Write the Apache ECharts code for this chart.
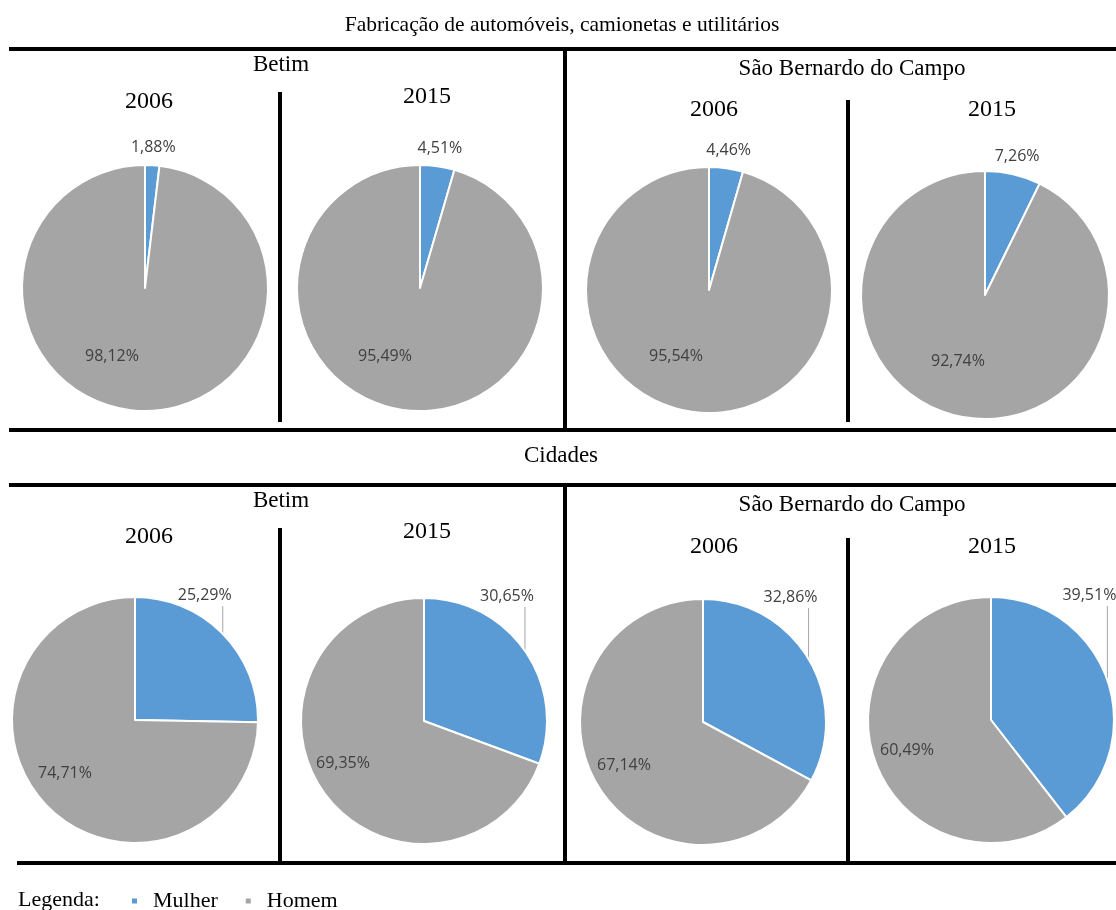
<!DOCTYPE html>
<html>
<head>
<meta charset="utf-8">
<title>Fabricação de automóveis, camionetas e utilitários</title>
<script src="https://cdn.jsdelivr.net/npm/echarts@6/dist/echarts.min.js"></script>
<style>
  html, body { margin: 0; padding: 0; background: #ffffff; }
  #chart { width: 1116px; height: 910px; }
</style>
</head>
<body>
<div id="chart"></div>
<script>
// ---- data -----------------------------------------------------------
const sliceNames = ['Mulher', 'Homem'];
const sectionTitles = ['Fabricação de automóveis, camionetas e utilitários', 'Cidades'];
const cities = ['Betim', 'São Bernardo do Campo'];
const years = ['2006', '2015'];
const legendCaption = 'Legenda:';

// order in each array: Betim 2006, Betim 2015, São Bernardo 2006, São Bernardo 2015
const mulherFabricacao = [1.88, 4.51, 4.46, 7.26];
const homemFabricacao  = [98.12, 95.49, 95.54, 92.74];
const mulherCidades    = [25.29, 30.65, 32.86, 39.51];
const homemCidades     = [74.71, 69.35, 67.14, 60.49];

// ---- styling / layout ------------------------------------------------
const sliceColors = ['#5B9BD5', '#A5A5A5'];
const serif = 'Liberation Serif';
const sans = 'Open Sans';

// pie centres and radii in px; hx/hy place the "Homem" label relative to the centre
const pieGeom = [
  { cx: 145, cy: 288, r: 123, hx: -33, hy: 68 },
  { cx: 420, cy: 288, r: 123, hx: -35, hy: 68 },
  { cx: 709, cy: 290, r: 123, hx: -33, hy: 66 },
  { cx: 985, cy: 295, r: 124, hx: -27, hy: 66 },
  { cx: 135, cy: 720, r: 123, hx: -70, hy: 53 },
  { cx: 424, cy: 721, r: 123, hx: -81, hy: 42 },
  { cx: 703, cy: 722, r: 123, hx: -79, hy: 43 },
  { cx: 991, cy: 720, r: 123, hx: -84, hy: 30 }
];

const pct = v => v.toFixed(2).replace('.', ',') + '%';

function buildPie(idx, mulher, homem, withLeader) {
  const g = pieGeom[idx];
  return {
    type: 'pie',
    center: [g.cx, g.cy],
    radius: g.r,
    startAngle: 90,
    clockwise: true,
    avoidLabelOverlap: false,
    silent: true,
    animation: false,
    emphasis: { disabled: true },
    itemStyle: { borderColor: '#ffffff', borderWidth: 2 },
    label: {
      show: true,
      formatter: p => pct(p.value),
      color: '#404040',
      fontFamily: sans,
      fontSize: 16
    },
    labelLayout: function (p) {
      if (p.dataIndex === 1) {
        return { x: g.cx + g.hx, y: g.cy + g.hy, align: 'center', verticalAlign: 'middle' };
      }
      // mid-angle of the "Mulher" slice, measured clockwise from 12 o'clock
      const a = mulher / 100 * Math.PI;
      const sx = Math.sin(a), sy = -Math.cos(a);
      if (withLeader) {
        const ax = g.cx + g.r * sx, ay = g.cy + g.r * sy;
        const ly = g.cy - g.r - 2;
        return {
          x: ax - 18, y: ly, align: 'center', verticalAlign: 'middle',
          labelLinePoints: [[ax, ly + 11], [ax, ay]]
        };
      }
      return {
        x: g.cx + (g.r + 18) * sx, y: g.cy + (g.r + 18) * sy,
        align: 'center', verticalAlign: 'middle'
      };
    },
    data: [
      {
        name: sliceNames[0], value: mulher,
        itemStyle: { color: sliceColors[0] },
        label: { position: 'outside' },
        labelLine: {
          show: withLeader, length: 10, length2: 0,
          lineStyle: { color: '#A6A6A6', width: 1 }
        }
      },
      {
        name: sliceNames[1], value: homem,
        itemStyle: { color: sliceColors[1] },
        label: { position: 'inside' },
        labelLine: { show: false }
      }
    ]
  };
}

const series = [];
for (let i = 0; i < 4; i++) series.push(buildPie(i, mulherFabricacao[i], homemFabricacao[i], false));
for (let i = 0; i < 4; i++) series.push(buildPie(i + 4, mulherCidades[i], homemCidades[i], true));

// ---- frame: rules and headings --------------------------------------
function hLine(y, x1, x2) {
  return { type: 'line', silent: true, shape: { x1: x1, y1: y, x2: x2, y2: y },
           style: { stroke: '#000000', lineWidth: 4 } };
}
function vLine(x, y1, y2) {
  return { type: 'line', silent: true, shape: { x1: x, y1: y1, x2: x, y2: y2 },
           style: { stroke: '#000000', lineWidth: 4 } };
}
function heading(text, x, y, size) {
  return { type: 'text', silent: true, x: x, y: y,
           style: { text: text, fontFamily: serif, fontSize: size, fill: '#000000',
                    align: 'center', verticalAlign: 'middle' } };
}

const graphics = [
  // horizontal rules
  hLine(49, 9, 1116),
  hLine(430, 9, 1116),
  hLine(485, 9, 1116),
  hLine(863, 17, 1116),
  // vertical dividers
  vLine(565, 49, 430),
  vLine(280, 92, 422),
  vLine(848, 100, 422),
  vLine(565, 485, 863),
  vLine(280, 528, 861),
  vLine(848, 538, 861),
  // section headings
  heading(sectionTitles[0], 562, 25, 21.5),
  heading(sectionTitles[1], 561, 456, 23),
  // upper block
  heading(cities[0], 281, 65, 23),
  heading(cities[1], 852, 69, 23),
  heading(years[0], 149, 102, 24),
  heading(years[1], 427, 97, 24),
  heading(years[0], 714, 110, 24),
  heading(years[1], 992, 110, 24),
  // lower block
  heading(cities[0], 281, 501, 23),
  heading(cities[1], 852, 505, 23),
  heading(years[0], 149, 537, 24),
  heading(years[1], 427, 532, 24),
  heading(years[0], 714, 547, 24),
  heading(years[1], 992, 547, 24)
];

const chart = echarts.init(document.getElementById('chart'), null, { renderer: 'canvas' });
chart.setOption({
  backgroundColor: '#ffffff',
  animation: false,
  title: {
    text: legendCaption,
    left: 13,
    top: 889,
    padding: [0, 5, 0, 5],
    textStyle: { fontFamily: serif, fontSize: 22, fontWeight: 'normal', color: '#000000' }
  },
  legend: {
    data: sliceNames,
    left: 125,
    top: 885,
    icon: 'rect',
    itemWidth: 7,
    itemHeight: 7,
    itemGap: 26,
    selectedMode: false,
    textStyle: { fontFamily: serif, fontSize: 22, color: '#000000', padding: [0, 0, 12, 10] }
  },
  graphic: graphics,
  series: series
});
</script>
</body>
</html>
